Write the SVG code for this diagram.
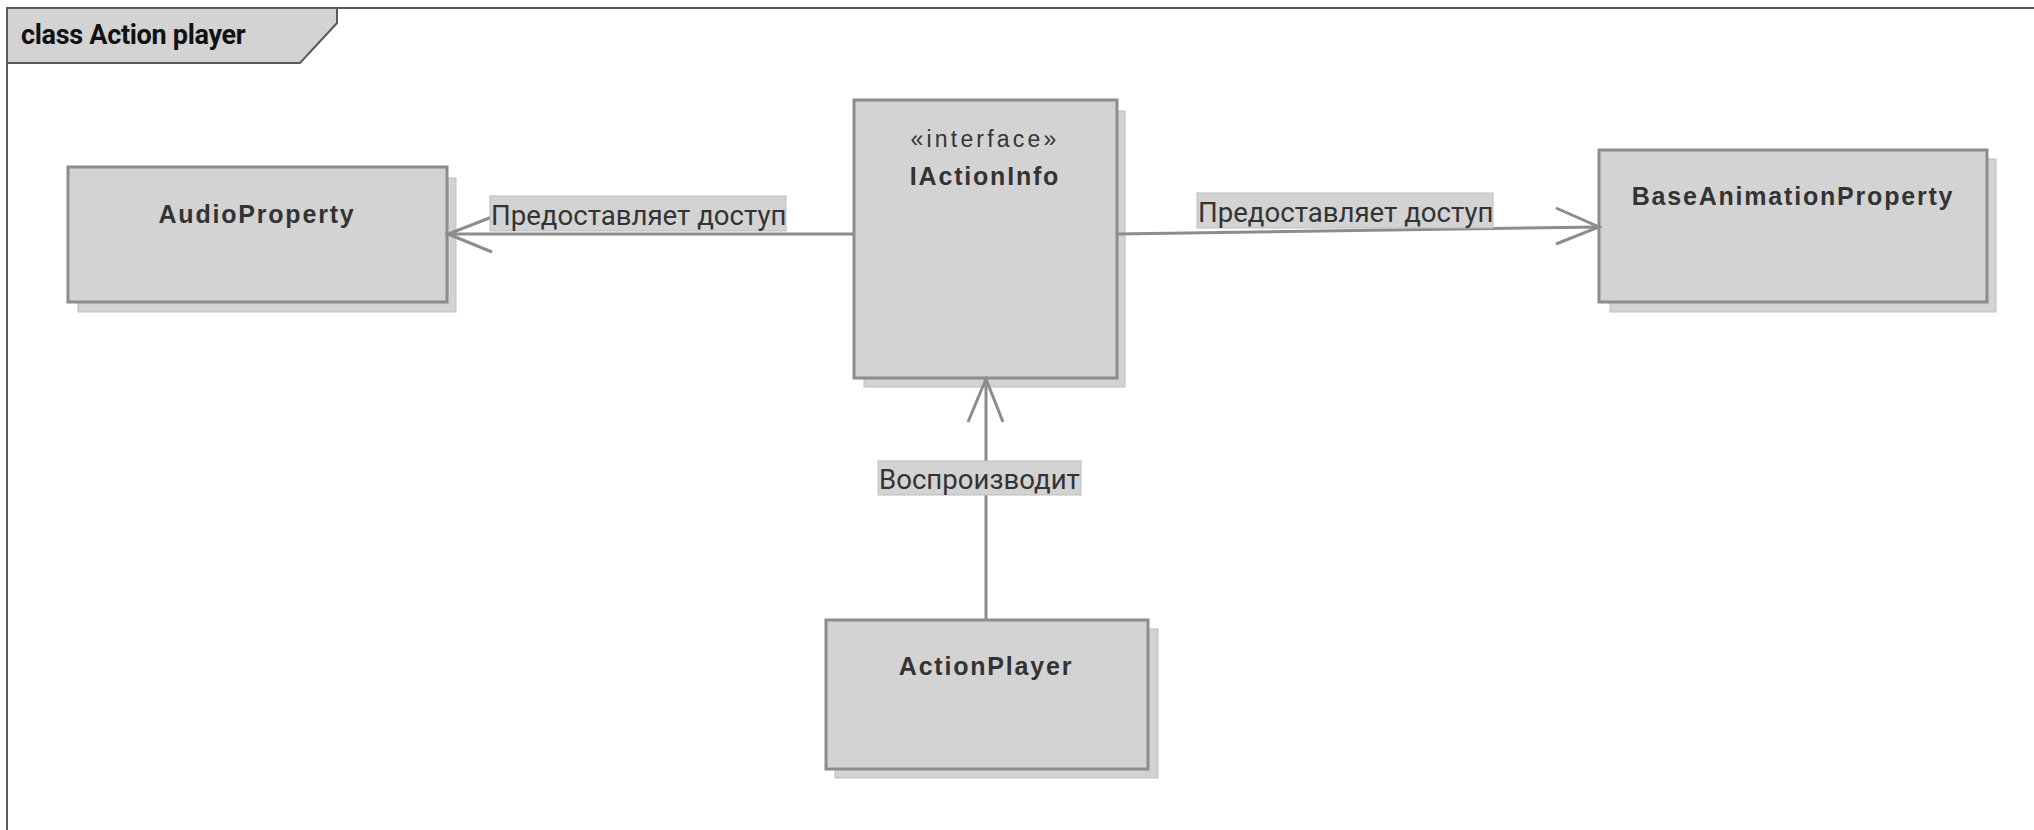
<svg xmlns="http://www.w3.org/2000/svg" width="2034" height="830" viewBox="0 0 2034 830">
<defs>
<style>
.frame{fill:none;stroke:#5a5a5a;stroke-width:2}
.tab{fill:#d3d3d3;stroke:#5a5a5a;stroke-width:2}
.tabtxt{font-family:Roboto,"Liberation Sans",sans-serif;font-weight:bold;font-size:27px;fill:#111;letter-spacing:-0.3px}
.shadow{fill:#d3d3d3;stroke:#bdbdbd;stroke-width:1}
.box{fill:#d3d3d3;stroke:#8c8c8c;stroke-width:3}
.name{font-family:"Liberation Sans",Arial,sans-serif;font-weight:bold;font-size:25px;fill:#333;letter-spacing:1.8px;text-anchor:middle}
.stereo{font-family:"Liberation Sans",Arial,sans-serif;font-size:23px;fill:#333;letter-spacing:3.2px;text-anchor:middle}
.conn{fill:none;stroke:#8c8c8c;stroke-width:3}
.lblbg{fill:#d3d3d3;stroke:#bdbdbd;stroke-width:1}
.lbl{font-family:Roboto,"Liberation Sans",sans-serif;font-size:27.6px;fill:#333}
</style>
</defs>
<rect width="2034" height="830" fill="#fff"/>
<g id="frame">
<path class="frame" d="M7,840 L7,8 L2040,8"/>
<path class="tab" d="M7,8 L337,8 L337,23 L300,63 L7,63 Z"/>
<text class="tabtxt" x="21" y="44">class Action player</text>
</g>
<g id="AudioProperty">
<rect class="shadow" x="78" y="178" width="378" height="134"/>
<rect class="box" x="68" y="167" width="379" height="135"/>
<text class="name" x="257" y="223">AudioProperty</text>
</g>
<g id="IActionInfo">
<rect class="shadow" x="864" y="111" width="261" height="276"/>
<rect class="box" x="854" y="100" width="263" height="278"/>
<text class="stereo" x="985" y="147">«interface»</text>
<text class="name" x="985" y="185">IActionInfo</text>
</g>
<g id="BaseAnimationProperty">
<rect class="shadow" x="1610" y="159" width="386" height="153"/>
<rect class="box" x="1599" y="150" width="388" height="152"/>
<text class="name" x="1793" y="205">BaseAnimationProperty</text>
</g>
<g id="ActionPlayer">
<rect class="shadow" x="835" y="629" width="323" height="149"/>
<rect class="box" x="826" y="620" width="322" height="149"/>
<text class="name" x="986" y="675">ActionPlayer</text>
</g>
<g id="connectors">
<g id="c1">
<path class="conn" d="M854,234 L448,234"/>
<path class="conn" d="M492,217 L448,234 L492,252"/>
<rect class="lblbg" x="490" y="196" width="296" height="35"/>
<text class="lbl" x="491" y="225">Предоставляет доступ</text>
</g>
<g id="c2">
<path class="conn" d="M1117,234 L1599,227"/>
<path class="conn" d="M1556,208 L1599,227 L1556,244"/>
<rect class="lblbg" x="1197" y="193" width="296" height="35"/>
<text class="lbl" x="1198" y="222">Предоставляет доступ</text>
</g>
<g id="c3">
<path class="conn" d="M986,620 L986,379"/>
<path class="conn" d="M968,422 L986,379 L1003,422"/>
<rect class="lblbg" x="878" y="461" width="203" height="34"/>
<text class="lbl" x="879" y="489">Воспроизводит</text>
</g>
</g>
</svg>
